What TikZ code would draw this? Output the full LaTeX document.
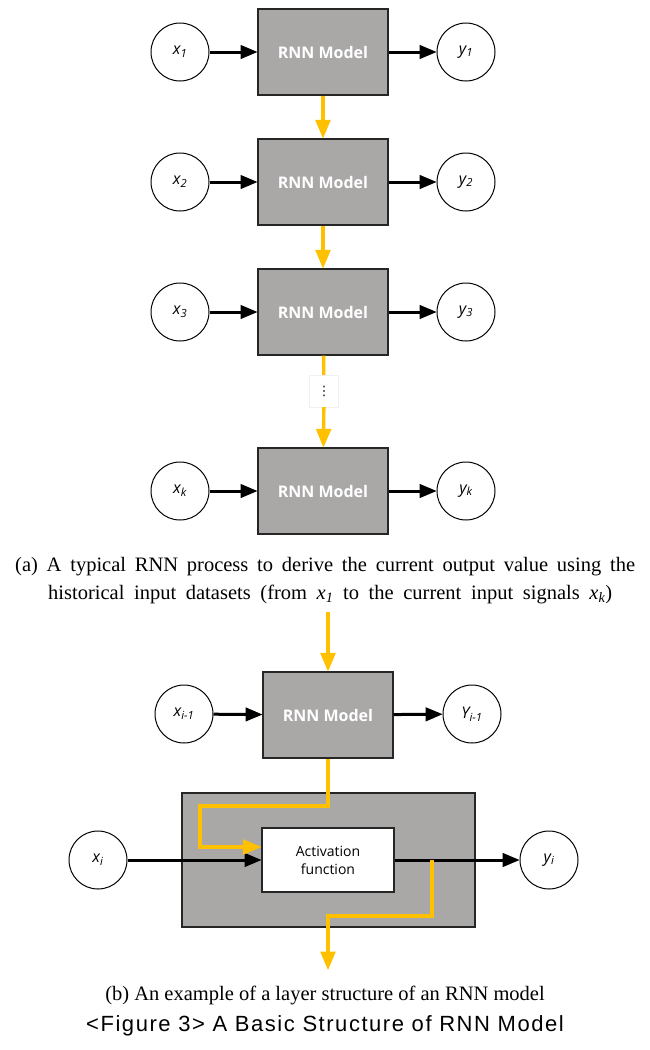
\documentclass[tikz,border=0pt]{standalone}
\usepackage{fontspec}
\setmainfont{Liberation Serif}
\setsansfont{Open Sans}
\newfontfamily\figcapfont[LetterSpace=7]{Liberation Sans}
\newfontfamily\dotsfont{DejaVu Sans}
\usetikzlibrary{arrows}
\definecolor{boxgray}{RGB}{170,167,167}
\definecolor{flowgold}{RGB}{255,192,0}

\begin{document}
\begin{tikzpicture}[line join=miter,>=triangle 45,x=1pt,y=-1pt,
	model/.style={draw=black!85,line width=1.2pt,fill=boxgray,minimum width=130pt,minimum height=86pt,inner sep=0pt,text=white,font=\sffamily\bfseries\fontsize{16}{18}\selectfont},
	sig/.style={circle,draw,line width=1pt,minimum size=58pt,inner sep=0pt,font=\sffamily\itshape\fontsize{16}{18}\selectfont},
	layer/.style={draw=black!85,line width=1.2pt,fill=boxgray,minimum width=293pt,minimum height=134pt,inner sep=0pt},
	actbox/.style={draw=black!85,line width=1.2pt,fill=white,minimum width=132pt,minimum height=64pt,inner sep=0pt,align=center,font=\sffamily\fontsize{14}{18}\selectfont},
	gapbox/.style={draw=black!6,fill=white,minimum width=29pt,minimum height=32pt,inner sep=0pt,font=\dotsfont\fontsize{13}{13}\selectfont},
	link/.style={->,line width=3pt},
	flow/.style={->,draw=flowgold,line width=3.4pt},
	flowline/.style={draw=flowgold,line width=3.4pt},
	capa/.style={anchor=north west,text width=620pt,align=justify,inner sep=0pt,font=\fontsize{20.5}{28}\selectfont}]
	\useasboundingbox (0,0) rectangle (649,1050);
	\node[sig] (x1) at (180,52) {x\textsubscript{1}};
	\node[model] (m1) at (323,52) {RNN Model};
	\node[sig] (y1) at (466,52) {y\textsubscript{1}};
	\node[sig] (x2) at (180,182) {x\textsubscript{2}};
	\node[model] (m2) at (323,182) {RNN Model};
	\node[sig] (y2) at (466,182) {y\textsubscript{2}};
	\node[sig] (x3) at (180,312) {x\textsubscript{3}};
	\node[model] (m3) at (323,312) {RNN Model};
	\node[sig] (y3) at (466,312) {y\textsubscript{3}};
	\node[gapbox] (gap) at (324,391) {⋮};
	\node[sig] (xk) at (180,491) {x\textsubscript{k}};
	\node[model] (mk) at (323,491) {RNN Model};
	\node[sig] (yk) at (466,491) {y\textsubscript{k}};
	\foreach \r in {1,2,3,k}{
		\draw[link] (x\r) -- (m\r);
		\draw[link] (m\r) -- (y\r);
	}
	\draw[flow] (m1) -- (m2);
	\draw[flow] (m2) -- (m3);
	\draw[flowline] (m3) -- (gap);
	\draw[flow] (gap) -- (mk);
	\node[capa] (capa) at (15,557) {\hangindent=33pt\hangafter=1\parfillskip=23pt (a) A typical RNN process to derive the current output value using the\linebreak historical input datasets (from \textit{x\textsubscript{1}} to the current input signals \textit{x\textsubscript{k}})\par};
	\coordinate (in) at (328,612);
	\node[sig] (xp) at (184,714) {x\textsubscript{i-1}};
	\node[model] (mp) at (328,715) {RNN Model};
	\node[sig] (yp) at (472,714) {Y\textsubscript{i-1}};
	\node[layer] (lay) at (328.5,860) {};
	\node[actbox] (act) at (328,860) {Activation\\function};
	\node[sig] (xi) at (98,860) {x\textsubscript{i}};
	\node[sig] (yi) at (549,860) {y\textsubscript{i}};
	\coordinate (tap) at (432,860);
	\coordinate (out) at (328,970);
	\draw[link] (xp) -- (mp);
	\draw[link] (mp) -- (yp);
	\draw[link] (xi) -- (act);
	\draw[link] (act) -- (yi);
	\draw[flow] (in) -- (mp);
	\draw[flow] (mp.south) |- (200,806) |- ([yshift=13pt]act.west);
	\draw[flow] (tap) -- (432,916) -| (out);
	\node[font=\fontsize{20.5}{24}\selectfont] (capb) at (325,995) {(b) An example of a layer structure of an RNN model};
	\node[font=\figcapfont\fontsize{22}{26}\selectfont] (figcap) at (325,1026) {<Figure 3> A Basic Structure of RNN Model};
\end{tikzpicture}
\end{document}
